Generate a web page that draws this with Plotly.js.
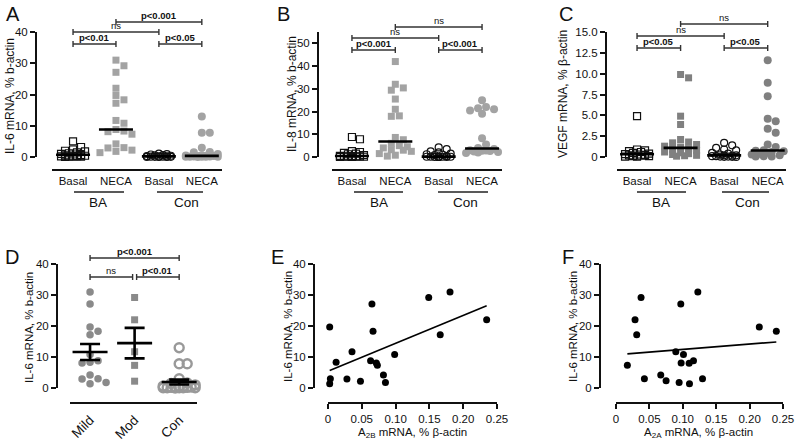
<!DOCTYPE html>
<html><head><meta charset="utf-8">
<script src="https://cdn.plot.ly/plotly-3.0.1.min.js"></script>
<style>html,body{margin:0;padding:0;background:#fff}#chart{width:800px;height:443px}</style>
</head><body><div id="chart"></div>
<script>
// ================= DATA =================
const catLabels = ["Basal", "NECA", "Basal", "NECA"];
const groupNames = ["BA", "Con"];
const sevLabels = ["Mild", "Mod", "Con"];

// IL-6 (panel A / D)
const il6BaBasal = [5.0, 3.2, 2.4, 2.0, 1.8, 1.5, 1.2, 1.0, 0.8, 0.6, 0.5, 0.4, 0.3, 0.2, 0.2, 0.1, 0.1, 0.05];
const il6Mild = [31.0, 27.1, 19.7, 18.3, 17.2, 10.8, 8.8, 8.3, 8.1, 4.2, 3.0, 2.9, 1.8, 1.4];
const il6Mod = [29.2, 22.0, 11.7, 7.3, 2.2];
const il6ConBasal = [1.1, 0.9, 0.8, 0.6, 0.5, 0.4, 0.3, 0.2, 0.2, 0.1, 0.1, 0.05, 0.05, 0.02, 0.02, 0.01];
const il6ConNeca = [13.0, 7.8, 7.8, 3.0, 1.6, 1.5, 1.0, 0.6, 0.5, 0.4, 0.3, 0.3, 0.2, 0.2, 0.1, 0.1, 0.1, 0.05, 0.05, 0.02];
const il6BaNeca = il6Mild.concat(il6Mod);

// IL-8 (panel B)
const il8BaBasal = [8.8, 7.8, 2.6, 2.2, 1.8, 1.5, 1.2, 0.8, 0.5, 0.4, 0.3, 0.3, 0.2, 0.2, 0.1, 0.1, 0.05, 0.05];
const il8BaNeca = [42, 32, 30.4, 29.4, 25.5, 21, 18.1, 17.9, 8.6, 7.6, 6.0, 5.0, 4.5, 4.0, 3.2, 3.0, 2.5, 1.5, 0.8, 0.4];
const il8ConBasal = [4.2, 3.5, 2.5, 2.0, 1.5, 1.2, 1.0, 0.8, 0.4, 0.2, 0.15, 0.1, 0.1, 0.1, 0.05, 0.05, 0.02, 0.02, 0.01, 0.01];
const il8ConNeca = [25, 22, 21.5, 21, 20.5, 19, 8.2, 5.5, 4.0, 3.5, 3.0, 2.9, 2.8, 2.6, 2.4, 2.2, 2.0, 1.8];

// VEGF (panel C)
const vegfBaBasal = [4.9, 0.9, 0.8, 0.7, 0.6, 0.5, 0.4, 0.35, 0.3, 0.25, 0.2, 0.15, 0.1, 0.1, 0.05, 0.05];
const vegfBaNeca = [9.9, 9.5, 4.9, 3.9, 2.1, 1.8, 1.7, 1.5, 1.3, 1.2, 1.0, 0.9, 0.8, 0.6, 0.5, 0.4, 0.3, 0.2, 0.15, 0.1];
const vegfConBasal = [1.7, 1.4, 1.1, 0.9, 0.8, 0.5, 0.4, 0.3, 0.2, 0.2, 0.15, 0.1, 0.1, 0.05, 0.05, 0.02, 0.02, 0.01];
const vegfConNeca = [11.6, 8.9, 7.3, 4.6, 4.3, 3.4, 2.9, 1.5, 1.2, 0.8, 0.75, 0.7, 0.6, 0.5, 0.4, 0.3, 0.2, 0.1, 0.05, 0.05];

// Correlations (panels E, F)
const a2bX = [0.0025, 0.0035, 0.0025, 0.012, 0.028, 0.0355, 0.048, 0.063, 0.065, 0.0666, 0.0715, 0.073, 0.082, 0.085, 0.0986, 0.149, 0.166, 0.1805, 0.2347];
const a2bIl6 = [19.7, 3.0, 1.4, 8.3, 2.9, 11.7, 2.2, 8.8, 27.1, 18.3, 8.1, 7.3, 4.2, 1.8, 10.8, 29.2, 17.2, 31.0, 22.0];
const a2aX = [0.017, 0.0285, 0.031, 0.0375, 0.0425, 0.067, 0.075, 0.0895, 0.0945, 0.097, 0.0975, 0.101, 0.1095, 0.11, 0.116, 0.1225, 0.1295, 0.2145, 0.24];
const a2aIl6 = [7.3, 22.0, 17.2, 29.2, 3.0, 4.2, 2.3, 11.7, 1.8, 27.1, 8.1, 10.8, 8.0, 1.4, 8.8, 31.0, 3.0, 19.7, 18.3];

const corrTickVals = [0, 0.05, 0.10, 0.15, 0.20, 0.25];
const corrTickText = ["0", "0.05", "0.10", "0.15", "0.20", "0.25"];
const vegfTickVals = [0, 2.5, 5, 7.5, 10, 12.5, 15];
const vegfTickText = ["0", "2.5", "5.0", "7.5", "10.0", "12.5", "15.0"];

// ================= LAYOUT GEOMETRY =================
const W = 800, H = 443;
const fx = p => p / W, fy = p => 1 - p / H;
const FONT = "Liberation Sans, Arial, Helvetica, sans-serif";
const G = {
  A: {s: '',  ax: 36,  top: 32,  bot: 157, yr: [0, 40], xl: 52,  xr: 222, xrng: [-0.49, 3.47], base: 170},
  B: {s: '2', ax: 318, top: 32,  bot: 157, yr: [0, 55], xl: 332, xr: 502, xrng: [-0.46, 3.46], base: 170},
  C: {s: '3', ax: 606, top: 32,  bot: 157, yr: [0, 15], xl: 617, xr: 786, xrng: [-0.46, 3.42], base: 170},
  D: {s: '4', ax: 57,  top: 264, bot: 388, yr: [0, 40], xl: 70,  xr: 197, xrng: [-0.45, 2.40], base: 403},
  E: {s: '5', ax: 314, top: 264, bot: 388, yr: [0, 40], xl: 328, xr: 497, xrng: [0, 0.25], base: 403},
  F: {s: '6', ax: 600, top: 264, bot: 388, yr: [0, 40], xl: 616, xr: 783, xrng: [0, 0.25], base: 403}
};
const pxPerY = g => (g.bot - g.top) / (g.yr[1] - g.yr[0]);
const pxPerX = g => (g.xr - g.xl) / (g.xrng[1] - g.xrng[0]);
const xToPx = (g, v) => g.xl + (v - g.xrng[0]) * pxPerX(g);

const layout = {
  width: W, height: H, margin: {l: 0, r: 0, t: 0, b: 0},
  paper_bgcolor: '#fff', plot_bgcolor: 'rgba(0,0,0,0)', showlegend: false,
  font: {family: FONT, color: '#111', size: 11.5},
  shapes: [], annotations: []
};
Object.keys(G).forEach(k => {
  const g = G[k];
  layout['xaxis' + g.s] = {
    domain: [fx(g.xl), fx(g.xr)], range: g.xrng, anchor: 'free', position: fy(g.base),
    showline: true, linewidth: 2, linecolor: '#111', showgrid: false, zeroline: false,
    ticks: '', tickfont: {size: 11.5, color: '#111'}, fixedrange: true
  };
  layout['yaxis' + g.s] = {
    domain: [fy(g.bot), fy(g.top)], range: g.yr, anchor: 'free', position: fx(g.ax),
    showline: true, linewidth: 2, linecolor: '#111', showgrid: false, zeroline: false,
    ticks: 'outside', ticklen: 5, tickwidth: 2, tickcolor: '#111',
    tickfont: {size: 11.5, color: '#111'}, dtick: 10, fixedrange: true
  };
});
['A', 'B', 'C'].forEach(k => {
  Object.assign(layout['xaxis' + G[k].s], {tickvals: [0, 1, 2, 3], ticktext: catLabels});
});
Object.assign(layout.xaxis4, {tickvals: [0, 1, 2], ticktext: sevLabels, tickangle: -45,
  ticklabelstandoff: 3, tickfont: {size: 13.5, color: '#111'}});
Object.assign(layout.yaxis3, {tickvals: vegfTickVals, ticktext: vegfTickText});
['E', 'F'].forEach(k => {
  Object.assign(layout['xaxis' + G[k].s], {
    tickvals: corrTickVals, ticktext: corrTickText, ticks: 'outside', ticklen: 5, tickwidth: 2, tickcolor: '#111', linewidth: 2
  });
});

// ================= HELPERS =================
function median(a) {
  const s = a.slice().sort((p, q) => p - q), n = s.length;
  return n % 2 ? s[(n - 1) / 2] : (s[n / 2 - 1] + s[n / 2]) / 2;
}
function mean(a) { return a.reduce((p, q) => p + q, 0) / a.length; }
function sem(a) {
  const m = mean(a);
  const v = a.reduce((p, q) => p + (q - m) * (q - m), 0) / (a.length - 1);
  return Math.sqrt(v / a.length);
}
// deterministic beeswarm spread (pixel-based), returns x offsets in axis units
function swarm(vals, g, markerPx, maxOffPx) {
  const py = pxPerY(g), pxx = pxPerX(g);
  const order = vals.map((v, i) => i).sort((a, b) => vals[b] - vals[a]);
  const placed = [], off = new Array(vals.length).fill(0);
  const cands = [0];
  for (let c = 4; c <= maxOffPx; c += 4) { cands.push(c, -c); }
  order.forEach(i => {
    const y = vals[i] * py;
    let best = 0, bestD = -1;
    for (const c of cands) {
      let d = Infinity;
      placed.forEach(p => { d = Math.min(d, Math.hypot(p[0] - c, p[1] - y)); });
      if (d >= markerPx) { best = c; bestD = Infinity; break; }
      if (d > bestD + 0.5) { bestD = d; best = c; }
    }
    placed.push([best, y]);
    off[i] = best / pxx;
  });
  return off;
}

const traces = [];
const GRAY = '#a3a3a3', DGRAY = '#808080';
function catPanel(k, groups, markers, maxOffs) {
  const g = G[k];
  groups.forEach((vals, i) => {
    const off = swarm(vals, g, 7, maxOffs[i]);
    traces.push({
      type: 'scatter', mode: 'markers', x: vals.map((v, j) => i + off[j]), y: vals,
      xaxis: 'x' + g.s, yaxis: 'y' + g.s, cliponaxis: false, hoverinfo: 'skip', marker: markers[i]
    });
  });
  traces.push({
    type: 'scatter', mode: 'markers', x: groups.map((v, i) => i), y: groups.map(median),
    xaxis: 'x' + g.s, yaxis: 'y' + g.s, cliponaxis: false, hoverinfo: 'skip',
    marker: {symbol: 'line-ew-open', size: 34 / 1.4, color: '#000', line: {width: 2.6, color: '#000'}}
  });
}
function mk(symbol, color, size, lw) {
  return {symbol: symbol, color: color, size: size, line: {width: lw || 0, color: color}};
}
const spreads = [14, 16, 14, 16];
catPanel('A', [il6BaBasal, il6BaNeca, il6ConBasal, il6ConNeca],
  [mk('square-open', '#111', 7, 1.2), mk('square', GRAY, 7), mk('circle-open', '#111', 7, 1.2), mk('circle', GRAY, 8)], spreads);
catPanel('B', [il8BaBasal, il8BaNeca, il8ConBasal, il8ConNeca],
  [mk('square-open', '#111', 7, 1.2), mk('square', GRAY, 7), mk('circle-open', '#111', 7, 1.2), mk('circle', GRAY, 8)], spreads);
catPanel('C', [vegfBaBasal, vegfBaNeca, vegfConBasal, vegfConNeca],
  [mk('square-open', '#111', 7, 1.2), mk('square', DGRAY, 7), mk('circle-open', '#111', 7, 1.2), mk('circle', DGRAY, 8)], spreads);

// Panel D: mean +/- SEM
(function () {
  const g = G.D;
  const groups = [il6Mild, il6Mod, il6ConNeca];
  const markers = [mk('circle', '#8a8a8a', 7.5), mk('square', '#8a8a8a', 7), mk('circle-open', '#999', 9, 2.4)];
  groups.forEach((vals, i) => {
    const off = swarm(vals, g, 7.5, 16);
    traces.push({
      type: 'scatter', mode: 'markers', x: vals.map((v, j) => i + off[j]), y: vals,
      xaxis: 'x4', yaxis: 'y4', cliponaxis: false, hoverinfo: 'skip', marker: markers[i]
    });
  });
  traces.push({
    type: 'scatter', mode: 'markers', x: groups.map((v, i) => i), y: groups.map(mean),
    xaxis: 'x4', yaxis: 'y4', cliponaxis: false, hoverinfo: 'skip',
    marker: {symbol: 'line-ew-open', size: 35 / 1.4, color: '#000', line: {width: 2.6, color: '#000'}},
    error_y: {type: 'data', array: groups.map(sem), visible: true, color: '#000', thickness: 2.6, width: 10}
  });
})();

// Panels E, F: scatter + linear regression
function corrPanel(k, xs, ys) {
  const g = G[k];
  traces.push({
    type: 'scatter', mode: 'markers', x: xs, y: ys, xaxis: 'x' + g.s, yaxis: 'y' + g.s,
    cliponaxis: false, hoverinfo: 'skip', marker: {symbol: 'circle', size: 7, color: '#000'}
  });
  const mx = mean(xs), my = mean(ys);
  let sxy = 0, sxx = 0;
  xs.forEach((x, i) => { sxy += (x - mx) * (ys[i] - my); sxx += (x - mx) * (x - mx); });
  const b = sxy / sxx, a = my - b * mx;
  const x0 = Math.min(...xs), x1 = Math.max(...xs);
  traces.push({
    type: 'scatter', mode: 'lines', x: [x0, x1], y: [a + b * x0, a + b * x1],
    xaxis: 'x' + g.s, yaxis: 'y' + g.s, hoverinfo: 'skip', line: {color: '#000', width: 1.6}
  });
}
corrPanel('E', a2bX, a2bIl6);
corrPanel('F', a2aX, a2aIl6);

// ================= ANNOTATIONS / SHAPES =================
function ann(text, xPx, yPx, size, opts) {
  layout.annotations.push(Object.assign({
    text: text, x: fx(xPx), y: fy(yPx), xref: 'paper', yref: 'paper', showarrow: false,
    xanchor: 'center', yanchor: 'middle', font: {size: size, color: '#111', family: FONT}
  }, opts || {}));
}
function hline(x0, x1, y, w, color) {
  layout.shapes.push({type: 'line', xref: 'paper', yref: 'paper', x0: fx(x0), x1: fx(x1), y0: fy(y), y1: fy(y),
    line: {color: color || '#222', width: w || 1.5}});
}
function vline(x, y0, y1, w, color) {
  layout.shapes.push({type: 'line', xref: 'paper', yref: 'paper', x0: fx(x), x1: fx(x), y0: fy(y0), y1: fy(y1),
    line: {color: color || '#222', width: w || 1.5}});
}
function bracket(k, i, j, yPx, text, bold, d0, d1) {
  const g = G[k];
  const x0 = xToPx(g, i) + (d0 || 0), x1 = xToPx(g, j) + (d1 || 0);
  hline(x0, x1, yPx, 1.4, '#333');
  vline(x0, yPx - 3, yPx + 3, 1.4, '#333');
  vline(x1, yPx - 3, yPx + 3, 1.4, '#333');
  ann(bold ? '<b>' + text + '</b>' : text, (x0 + x1) / 2, yPx + 1, 9.5, {yanchor: 'bottom'});
}
bracket('A', 0, 1, 44, 'p<0.01', true);
bracket('A', 0, 2, 32, 'ns', false);
bracket('A', 1, 3, 22, 'p<0.001', true);
bracket('A', 2, 3, 44, 'p<0.05', true);
bracket('B', 0, 1, 50, 'p<0.001', true);
bracket('B', 0, 2, 38, 'ns', false);
bracket('B', 1, 3, 27, 'ns', false);
bracket('B', 2, 3, 50, 'p<0.001', true);
bracket('C', 0, 1, 48, 'p<0.05', true);
bracket('C', 0, 2, 36, 'ns', false);
bracket('C', 1, 3, 24, 'ns', false);
bracket('C', 2, 3, 48, 'p<0.05', true);
bracket('D', 0, 2, 258, 'p<0.001', true);
bracket('D', 0, 1, 277, 'ns', false, 0, -2);
bracket('D', 1, 2, 277, 'p<0.01', true, 2, 0);

// group underlines and names
function groupLabel(x0, x1, lx, name) {
  hline(x0, x1, 192, 1.4, '#222');
  ann(name, lx, 202, 13.5);
}
groupLabel(74, 124, 98, groupNames[0]);
groupLabel(157, 203, 186, groupNames[1]);
groupLabel(354, 403, 379, groupNames[0]);
groupLabel(438, 488, 465, groupNames[1]);
groupLabel(637, 686, 661, groupNames[0]);
groupLabel(722, 769, 747, groupNames[1]);

// panel letters
ann('A', 13, 14, 20); ann('B', 283, 14, 20); ann('C', 566, 14, 20);
ann('D', 12, 257, 20); ann('E', 277, 257, 20); ann('F', 568, 257, 20);

// axis titles
ann('IL-6 mRNA, % b-actin', 10, 96, 12, {textangle: -90});
ann('IL-8 mRNA, % b-actin', 292, 94, 12, {textangle: -90});
ann('VEGF mRNA, % β-actin', 563, 94, 12, {textangle: -90});
ann('IL-6 mRNA, % b-actin', 29, 327, 11.5, {textangle: -90});
ann('IL-6 mRNA, % b-actin', 288, 327, 11.5, {textangle: -90});
ann('IL-6 mRNA, % b-actin', 573, 327, 11.5, {textangle: -90});
ann('A<sub>2B</sub> mRNA, % β-actin', 412, 433, 11.5);
ann('A<sub>2A</sub> mRNA, % β-actin', 698, 433, 11.5);

Plotly.newPlot('chart', traces, layout, {staticPlot: true, displayModeBar: false});
</script>
</body></html>
